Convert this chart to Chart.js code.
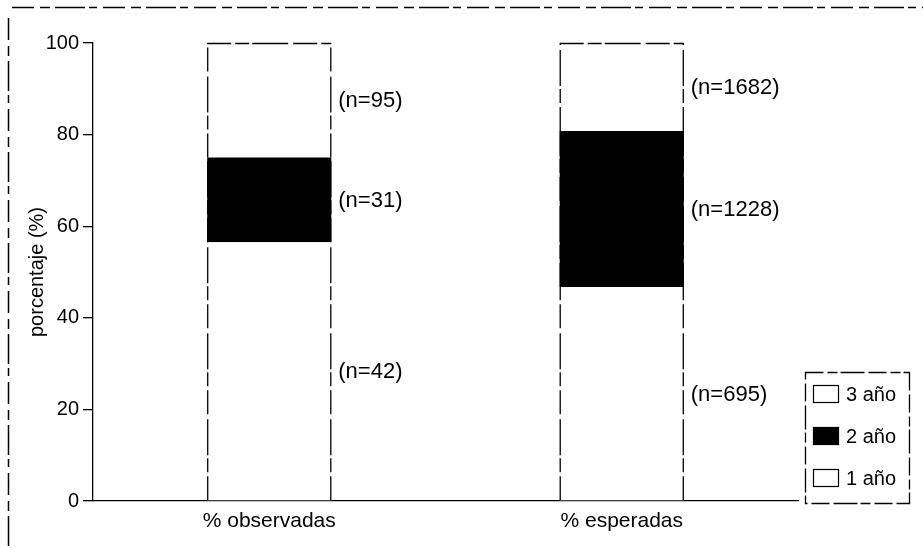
<!DOCTYPE html>
<html><head><meta charset="utf-8">
<script src="https://cdn.jsdelivr.net/npm/chart.js@4.4.0/dist/chart.umd.min.js"></script>
<style>html,body{margin:0;padding:0;background:#fff}#wrap{width:923px;height:548px;position:relative}</style>
</head><body><div id="wrap"><canvas id="c" width="923" height="548"></canvas></div>
<script>
const categories = ['% observadas', '% esperadas'];
const seriesLabels = ['1 año', '2 año', '3 año'];
const pct1 = [56.5, 46.7];
const pct2 = [18.5, 34.1];
const pct3 = [25.0, 19.2];
const n1 = [42, 695];
const n2 = [31, 1228];
const n3 = [95, 1682];
const yTicks = [0, 20, 40, 60, 80, 100];
const yTitle = 'porcentaje (%)';

const nCounts = [n1, n2, n3];
const fills = ['#ffffff', '#000000', '#ffffff'];
const FONT = "'Liberation Sans', Arial, sans-serif";
Chart.defaults.font.family = FONT;
Chart.defaults.font.size = 20;
Chart.defaults.color = '#000';

const DASH = [26, 3, 12, 3, 40, 4, 18, 2];

const decor = {
  id: 'decor',
  beforeDraw(chart) {
    const ctx = chart.ctx;
    ctx.save();
    ctx.fillStyle = '#fff';
    ctx.fillRect(0, 0, chart.width, chart.height);
    ctx.strokeStyle = '#000';
    ctx.lineWidth = 1.5;
    ctx.setLineDash([22, 6, 10, 5, 30, 4, 8, 6]);
    ctx.beginPath();
    ctx.moveTo(12, 7.5); ctx.lineTo(chart.width, 7.5);
    ctx.moveTo(8.5, 18); ctx.lineTo(8.5, chart.height);
    ctx.stroke();
    ctx.restore();
  },
  afterDatasetsDraw(chart) {
    const ctx = chart.ctx;
    ctx.save();
    ctx.strokeStyle = '#000';
    ctx.lineWidth = 1.3;
    ctx.setLineDash([24, 4, 14, 3, 36, 5]);
    chart.data.datasets.forEach((ds, di) => {
      const meta = chart.getDatasetMeta(di);
      meta.data.forEach((el, i) => {
        const p = el.getProps(['x', 'y', 'base', 'width'], true);
        const l = p.x - p.width / 2, r = p.x + p.width / 2;
        ctx.beginPath();
        ctx.moveTo(l + 0.5, p.base); ctx.lineTo(l + 0.5, p.y);
        ctx.moveTo(r - 0.5, p.base); ctx.lineTo(r - 0.5, p.y);
        if (di === chart.data.datasets.length - 1) { ctx.moveTo(l, p.y + 0.5); ctx.lineTo(r, p.y + 0.5); }
        ctx.stroke();
        ctx.save();
        ctx.setLineDash([]);
        ctx.fillStyle = '#000';
        ctx.font = '22px ' + FONT;
        ctx.textAlign = 'left';
        ctx.textBaseline = 'middle';
        ctx.fillText('(n=' + nCounts[di][i] + ')', r + 7, (p.y + p.base) / 2 + 1);
        ctx.restore();
      });
    });
    ctx.restore();
  },
  afterDraw(chart) {
    const ctx = chart.ctx;
    const a = chart.chartArea;
    const fx = a.right + 7, fy = a.bottom - 129, fw = 104, fh = 131;
    ctx.save();
    ctx.strokeStyle = '#000';
    ctx.lineWidth = 1.3;
    ctx.setLineDash([18, 4, 10, 3, 24, 4]);
    ctx.strokeRect(fx + 0.5, fy + 0.5, fw, fh);
    ctx.setLineDash([]);
    ctx.font = '20px ' + FONT;
    ctx.textBaseline = 'middle';
    ctx.textAlign = 'left';
    const ds = chart.data.datasets;
    for (let k = 0; k < ds.length; k++) {
      const idx = ds.length - 1 - k;
      const cy = fy + 22 + k * 42;
      ctx.fillStyle = ds[idx].backgroundColor;
      ctx.fillRect(fx + 8, cy - 9, 26, 18);
      ctx.lineWidth = 1.2;
      ctx.strokeStyle = '#000';
      ctx.strokeRect(fx + 8.5, cy - 8.5, 25, 17);
      ctx.fillStyle = '#000';
      ctx.fillText(ds[idx].label, fx + 41, cy + 1);
    }
    ctx.restore();
  }
};

new Chart(document.getElementById('c'), {
  type: 'bar',
  data: {
    labels: categories,
    datasets: [pct1, pct2, pct3].map((d, k) => ({
      label: seriesLabels[k],
      data: d,
      backgroundColor: fills[k],
      borderWidth: 0,
      barPercentage: 0.352,
      categoryPercentage: 1
    }))
  },
  options: {
    responsive: false,
    animation: false,
    devicePixelRatio: 1,
    layout: { padding: { left: 10, top: 43, right: 125, bottom: 15 } },
    plugins: { legend: { display: false }, tooltip: { enabled: false } },
    scales: {
      x: {
        stacked: true,
        afterFit: (s) => { s.height = 32; },
        grid: { display: true, drawOnChartArea: false, drawTicks: false },
        border: { display: true, color: '#000', width: 1.3, dash: DASH },
        ticks: { padding: 8, color: '#000', font: { size: 21 } }
      },
      y: {
        stacked: true,
        min: 0, max: 100,
        afterBuildTicks: (s) => { s.ticks = yTicks.map(v => ({ value: v })); },
        afterFit: (s) => { s.width = 83; },
        grid: { display: true, drawOnChartArea: false, drawTicks: true, tickLength: 10, color: '#000', lineWidth: 1.3 },
        border: { display: true, color: '#000', width: 1.3, dash: DASH },
        ticks: { padding: 4, color: '#000', font: { size: 20 } },
        title: { display: true, text: yTitle, color: '#000', font: { size: 20 }, padding: { top: 15, bottom: 0 } }
      }
    }
  },
  plugins: [decor]
});
</script></body></html>
